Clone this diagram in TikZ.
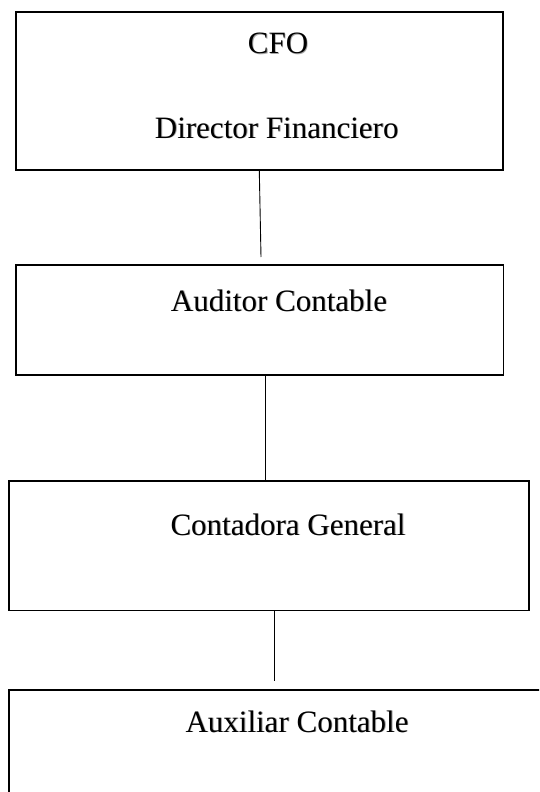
\documentclass[tikz,border=0pt]{standalone}
\usepackage{fontspec}
\setmainfont{Liberation Serif}
\newcommand\ShLabel[4]{%
  \node[lbl, text=black!35] (#1s) at ([xshift=0.9pt,yshift=-0.9pt]#2) {#3#4};
  \node[lbl] (#1) at (#2) {#3#4};}
\begin{document}
\begin{tikzpicture}[x=1pt,y=-1pt,
  box/.style={draw=black, line width=1.8pt, rectangle, inner sep=0pt},
  lbl/.style={font=\fontsize{31}{36}\selectfont, anchor=base, inner sep=0pt},
  conn/.style={line width=0.9pt, draw=black}]
\useasboundingbox (0,0) rectangle (539,792);
\clip (0,0) rectangle (539,792);
\fill[white] (0,0) rectangle (539,792);
% boxes
\node[box, minimum width=486.6pt, minimum height=158pt] (cfo)  at (259.3,91) {};
\node[box, minimum width=487.5pt, minimum height=110pt] (aud)  at (259.75,320) {};
\node[box, minimum width=520.4pt, minimum height=129.5pt] (cont) at (268.8,545.75) {};
\node[box, minimum width=551.4pt, minimum height=160pt] (aux)  at (284.3,770) {};
% labels
\ShLabel{tcfo}{278,54}{CFO}{}
\ShLabel{tdir}{276.7,138}{Director Financiero}{}
\ShLabel{taud}{279,311}{Auditor Contable}{}
\ShLabel{tcont}{288,535}{Contadora General}{}
\ShLabel{taux}{297,732}{Auxiliar Contable}{}
% connectors
\coordinate (c1) at (261,257);
\coordinate (c2) at (265,0);
\coordinate (c3) at (274.5,681);
\draw[conn] (cfo.south) -- (c1);
\draw[conn] (aud.south -| c2) -- (cont.north -| c2);
\draw[conn] (cont.south -| c3) -- (c3);
\end{tikzpicture}
\end{document}
